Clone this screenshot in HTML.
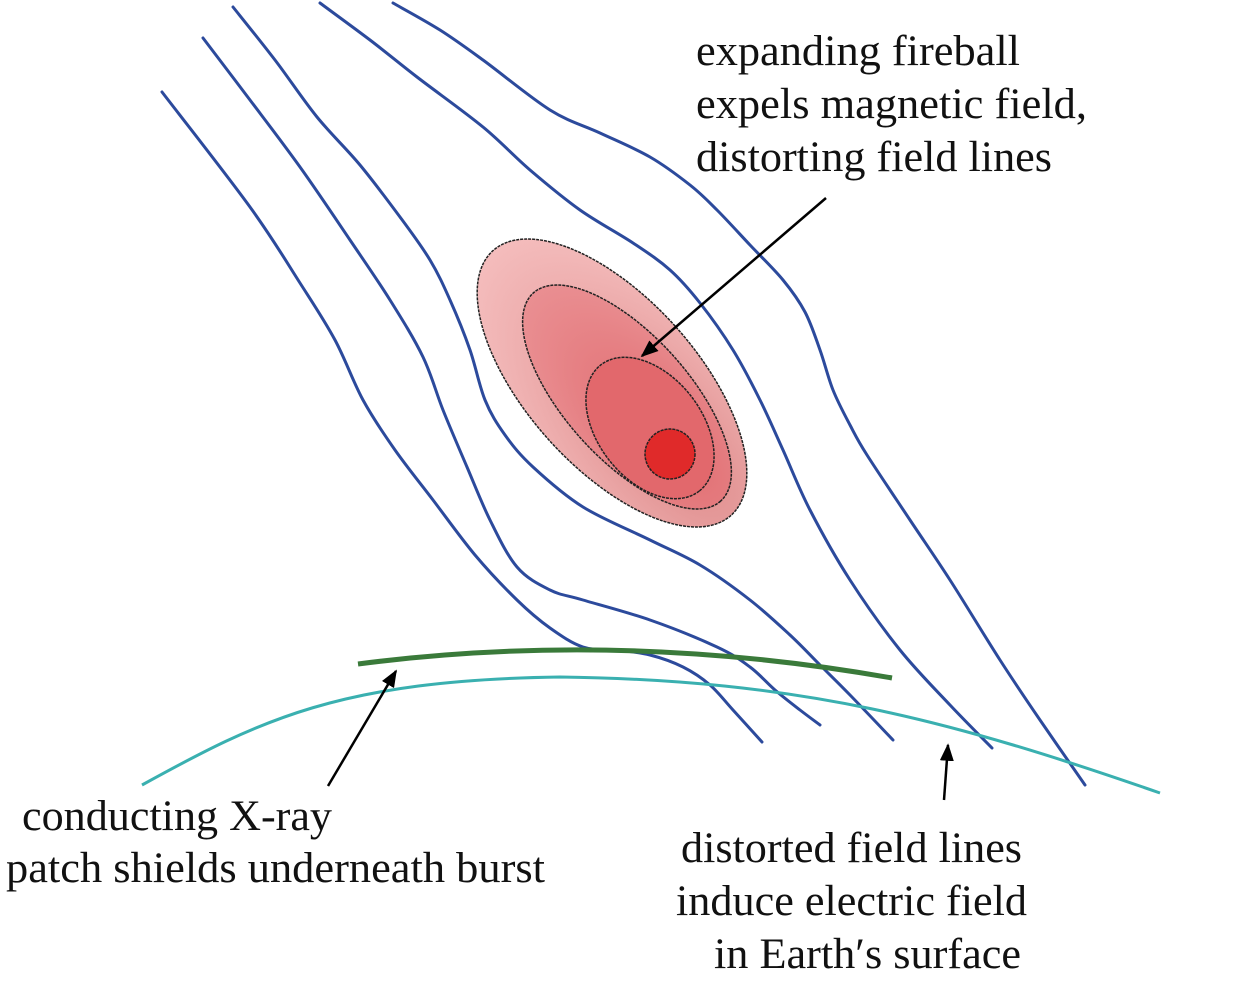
<!DOCTYPE html>
<html><head><style>
body{margin:0;background:#fff;width:1259px;height:983px;overflow:hidden}
svg{position:absolute;left:0;top:0}
text{font-family:"Liberation Serif",serif;font-size:43px;fill:#111}
</style></head><body>
<svg width="1259" height="983" viewBox="0 0 1259 983">
<defs>
<radialGradient id="g1" cx="0.75" cy="0.5" r="0.8"><stop offset="0" stop-color="#dd8888"/><stop offset="1" stop-color="#f6c0c0"/></radialGradient>
<radialGradient id="g2" cx="0.7" cy="0.5" r="0.8"><stop offset="0" stop-color="#e06a6e"/><stop offset="1" stop-color="#eb9497"/></radialGradient>
<marker id="ah" viewBox="0 0 10 10" refX="9" refY="5" markerWidth="7" markerHeight="7" orient="auto"><path d="M0,1 L10,5 L0,9 z" fill="#000"/></marker>
</defs>
<g id="fl" fill="none" stroke="#2c4a9c" stroke-width="3" stroke-linejoin="round" stroke-linecap="round">
<polyline points="162,92 250,207 300,283 335,340 363,400 395,450 433,500 475,555 517,600 550,628 583,647 617,650 650,655 683,667 710,685 733,710 762,742"/>
<polyline points="203,38 250,100 300,167 350,240 390,300 423,357 443,410 467,467 490,520 517,567 550,590 583,600 650,620 717,647 750,667 775,690 800,710 820,725"/>
<polyline points="233,7 275,60 317,117 360,165 400,217 430,260 450,300 470,350 485,400 505,435 533,467 583,507 650,540 700,565 750,600 790,635 820,665 850,695 893,740"/>
<polyline points="320,3 370,40 417,77 483,127 530,170 580,210 633,243 670,270 700,303 733,350 760,400 783,450 810,510 850,580 900,650 950,705 992,748"/>
<polyline points="393,3 440,30 483,60 550,110 600,133 650,157 690,185 717,210 750,245 783,280 805,312 820,350 833,390 850,425 867,455 910,520 950,580 1000,660 1040,720 1085,785"/>
</g>
<path d="M358,664 Q620,630 892,678" fill="none" stroke="#3a7a3a" stroke-width="5"/>
<path d="M142,785 C260,720 340,680 560,677 C800,680 950,720 1160,793" fill="none" stroke="#3ab0b0" stroke-width="3"/>
<ellipse cx="612" cy="383" rx="178" ry="85" transform="rotate(48 612 383)" fill="url(#g1)" stroke="#222" stroke-width="1.5" stroke-dasharray="3,1"/>
<ellipse cx="627" cy="397" rx="140" ry="62" transform="rotate(48 627 397)" fill="url(#g2)" stroke="#222" stroke-width="1.5" stroke-dasharray="3,1"/>
<ellipse cx="650" cy="428" rx="80" ry="52" transform="rotate(52 650 428)" fill="#e2686c" stroke="#222" stroke-width="1.5" stroke-dasharray="3,1"/>
<circle cx="670" cy="454" r="25" fill="#e02a2a" stroke="#222" stroke-width="1.5" stroke-dasharray="3,1"/>
<g stroke="#000" stroke-width="2.5" fill="none">
<line x1="826" y1="198" x2="642" y2="356" marker-end="url(#ah)"/>
<line x1="328" y1="786" x2="396" y2="671" marker-end="url(#ah)"/>
<line x1="944" y1="800" x2="948" y2="745" marker-end="url(#ah)"/>
</g>
<text x="696" y="65" textLength="324" lengthAdjust="spacingAndGlyphs">expanding fireball</text>
<text x="696" y="118" textLength="391" lengthAdjust="spacingAndGlyphs">expels magnetic field,</text>
<text x="696" y="171" textLength="356" lengthAdjust="spacingAndGlyphs">distorting field lines</text>
<text x="22" y="830" textLength="310" lengthAdjust="spacingAndGlyphs">conducting X-ray</text>
<text x="6" y="882" textLength="539" lengthAdjust="spacingAndGlyphs">patch shields underneath burst</text>
<text x="681" y="862" textLength="341" lengthAdjust="spacingAndGlyphs">distorted field lines</text>
<text x="676" y="915" textLength="351" lengthAdjust="spacingAndGlyphs">induce electric field</text>
<text x="714" y="968" textLength="307" lengthAdjust="spacingAndGlyphs">in Earth′s surface</text>
</svg>
<script>
(function(){
var ns="http://www.w3.org/2000/svg";
var pls=document.querySelectorAll("#fl polyline");
for(var k=0;k<pls.length;k++){
var pl=pls[k];
var p=pl.getAttribute("points").trim().split(/\s+/).map(function(s){var a=s.split(",");return [+a[0],+a[1]];});
var d="M"+p[0][0]+","+p[0][1];
for(var i=0;i<p.length-1;i++){
var p0=p[i-1]||p[i],p1=p[i],p2=p[i+1],p3=p[i+2]||p2;
var c1=[p1[0]+(p2[0]-p0[0])/6,p1[1]+(p2[1]-p0[1])/6];
var c2=[p2[0]-(p3[0]-p1[0])/6,p2[1]-(p3[1]-p1[1])/6];
d+=" C"+c1[0].toFixed(1)+","+c1[1].toFixed(1)+" "+c2[0].toFixed(1)+","+c2[1].toFixed(1)+" "+p2[0]+","+p2[1];
}
var path=document.createElementNS(ns,"path");
path.setAttribute("d",d);
pl.parentNode.replaceChild(path,pl);
}
})();
</script>
</body></html>
